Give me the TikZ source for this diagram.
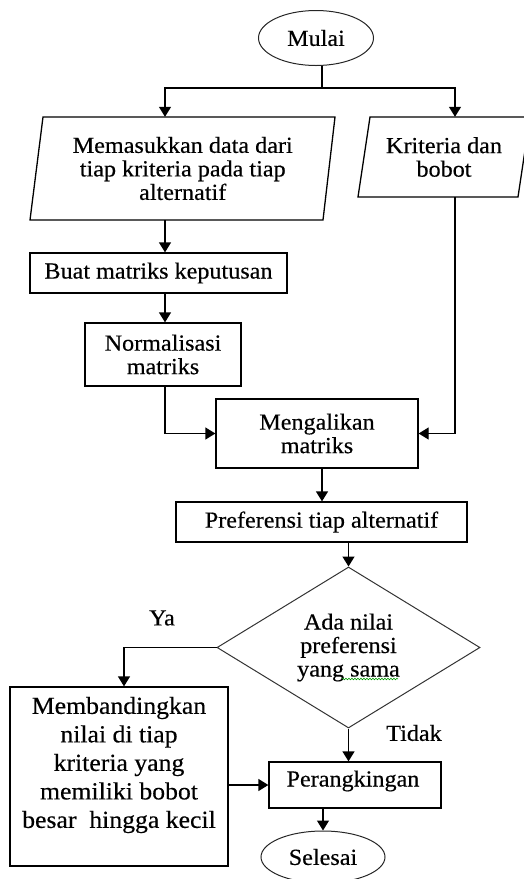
\documentclass[tikz,border=0pt]{standalone}
\usepackage{fontspec}
\setmainfont{Liberation Serif}[FakeStretch=1.05,FakeBold=0.4]
\usetikzlibrary{shapes.geometric,arrows.meta,decorations.pathmorphing}
\begin{document}
\begin{tikzpicture}[x=1pt,y=-1pt,
  every node/.style={font=\fontsize{23}{23.5}\selectfont, inner sep=0pt, align=center},
  proc/.style={draw, rectangle, line width=1.3pt},
  term/.style={draw, ellipse, line width=1pt, draw=black!85},
  decis/.style={draw, diamond, aspect=1.6, line width=1pt, draw=black!80},
  arr/.style={line width=1.3pt, -{Triangle[length=10pt,width=12pt]}},
  plain/.style={line width=1.3pt}
]
\useasboundingbox (0,0) rectangle (523,879);

% column coordinates
\coordinate (colL) at (165,0);
\coordinate (colR) at (455,0);
\coordinate (colM) at (322,0);
\coordinate (colY) at (124,0);
\coordinate (colS) at (323,0);
\coordinate (j) at (322,88);

% nodes
\node[term, minimum width=115pt, minimum height=55pt] (mulai) at (316,38) {Mulai};

\node[minimum width=280pt, minimum height=103pt] (p1) at (182.75,168.5)
  {Memasukkan data dari\\tiap kriteria pada tiap\\alternatif};
\draw[line width=1.3pt] (43,117) -- (335,117) -- (323,220) -- (30,220) -- cycle;

\node[minimum width=150pt, minimum height=80pt] (p2) at (444,157) {Kriteria dan\\bobot};
\draw[line width=1.3pt] (370,117) -- (530,117) -- (518,197) -- (358,197) -- cycle;

\node[proc, minimum width=257pt, minimum height=40pt] (buat) at (158.5,273) {Buat matriks keputusan};
\node[proc, minimum width=156pt, minimum height=63pt] (norm) at (163,354.5) {Normalisasi\\matriks};
\node[proc, minimum width=202pt, minimum height=69pt] (meng) at (317,433.5) {Mengalikan\\matriks};
\node[proc, minimum width=291pt, minimum height=40pt] (pref) at (321.5,522) {Preferensi tiap alternatif};
\node[decis, minimum width=263pt, minimum height=161pt] (dia) at (348.5,647.5) {Ada nilai\\preferensi\\yang sama};
\node[proc, minimum width=218pt, minimum height=179pt] (memb) at (119,776.5) {};
\node[font=\fontsize{24.5}{28.5}\selectfont] (membtxt) at (119,765)
  {Membandingkan\\nilai di tiap\\kriteria yang\\memiliki bobot\\besar\ \ hingga kecil};
\node[proc, minimum width=172pt, minimum height=46pt] (rank) at (355,785) {};
\node (ranktxt) at (353,781) {Perangkingan};
\node[term, minimum width=124pt, minimum height=52pt] (selesai) at (323,857) {Selesai};

\node (ya) at (162,618) {Ya};
\node (tidak) at (414,733) {Tidak};

% spell-check squiggle
\draw[green!60!black, line width=0.6pt, decorate, decoration={snake, amplitude=0.8pt, segment length=3pt}] (342,679) -- (398,679);

% connectors
\draw[plain] (mulai.south -| j) -- (j);
\draw[arr] (j) -| (p1.north -| colL);
\draw[arr] (j) -| (p2.north -| colR);
\draw[arr] (p1.south -| colL) -- (buat.north -| colL);
\draw[arr] (buat.south -| colL) -- (norm.north -| colL);
\draw[arr] (norm.south -| colL) |- (meng.west);
\draw[arr] (p2.south -| colR) |- (meng.east);
\draw[arr] (meng.south -| colM) -- (pref.north -| colM);
\draw[arr] (pref.south -| dia.north) -- (dia.north);
\draw[arr] (dia.west) -| (memb.north -| colY);
\draw[arr] (dia.south) -- (rank.north -| dia.south);
\draw[arr] (memb.east |- rank.west) -- (rank.west);
\draw[arr] (rank.south -| colS) -- (selesai.north);
\end{tikzpicture}
\end{document}
